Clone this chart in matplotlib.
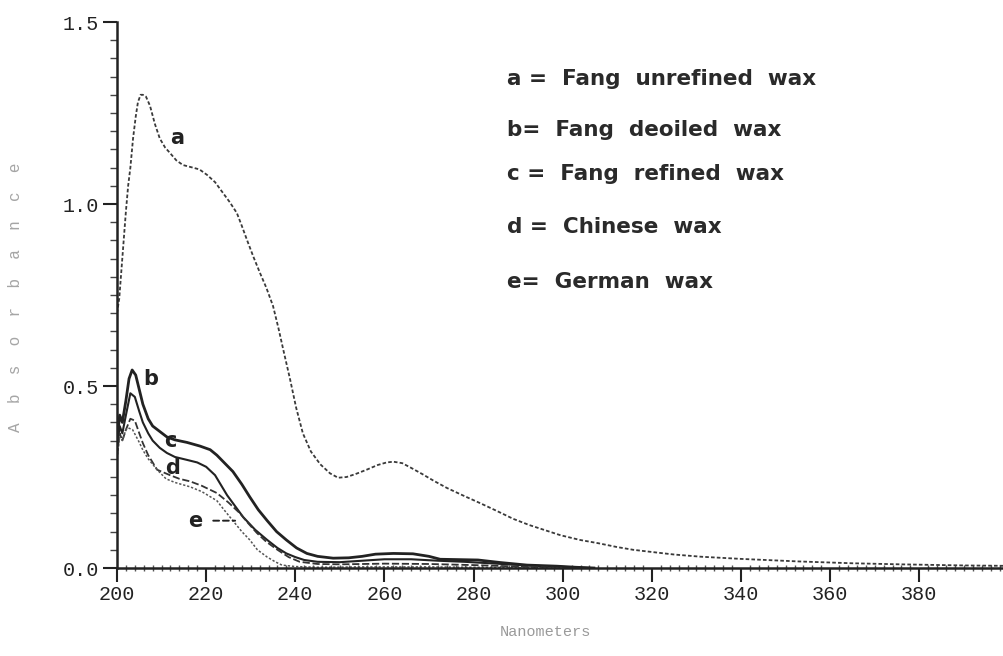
import matplotlib
matplotlib.use("Agg")
import matplotlib.pyplot as plt
from matplotlib.ticker import MultipleLocator

# ---- data (wavelength nm, absorbance) ----
a_x = [200, 200.5, 201, 201.5, 202, 202.5, 203, 203.6, 204.2, 204.7, 205.3, 205.8, 206.5, 207.4,
       208.5, 209.6, 210.8, 211.9, 213.3, 214.8, 217, 218.5, 220.2, 222, 223.8, 225.3, 226.9, 228,
       229.2, 230.6, 232.1, 233.5, 235, 236.2, 237.3, 238.8, 240.2, 241.7, 243.5, 245.6, 247.8,
       249.6, 251.5, 253.5, 256, 258.5, 260.5, 262, 264, 266, 268.5, 271, 274, 277.5, 281.5, 285,
       288.9, 292.5, 296, 299.5, 303.9, 308, 312, 315.8, 320, 325, 331, 340, 353, 365, 376, 390, 399]
a_y = [0.70, 0.74, 0.82, 0.90, 0.98, 1.05, 1.10, 1.18, 1.24, 1.28, 1.30, 1.30, 1.295, 1.27,
       1.22, 1.18, 1.155, 1.14, 1.12, 1.107, 1.10, 1.095, 1.08, 1.06, 1.03, 1.005, 0.975, 0.94,
       0.90, 0.855, 0.81, 0.77, 0.72, 0.66, 0.60, 0.52, 0.44, 0.37, 0.32, 0.285, 0.26,
       0.248, 0.25, 0.258, 0.27, 0.283, 0.29, 0.292, 0.288, 0.275, 0.258, 0.24, 0.22, 0.20, 0.178, 0.158,
       0.135, 0.118, 0.104, 0.09, 0.077, 0.068, 0.058, 0.05, 0.044, 0.037, 0.031, 0.025, 0.018, 0.013, 0.010, 0.007, 0.006]

b_x = [200, 200.6, 201.2, 202, 202.7, 203.4, 204.2, 205, 205.8, 207, 208, 209.6, 211.2, 213,
       215.7, 218.6, 220.9, 222.4, 224, 226, 228, 229.8, 231.7, 233.7, 235.8, 238, 240.3, 242.6,
       245, 248.5, 252, 255, 258, 262, 266.4, 270, 272.5, 281, 286, 292, 298.7, 303, 307]
b_y = [0.35, 0.42, 0.40, 0.46, 0.52, 0.544, 0.53, 0.49, 0.45, 0.41, 0.39, 0.375, 0.36, 0.352,
       0.345, 0.335, 0.325, 0.31, 0.29, 0.265, 0.23, 0.195, 0.16, 0.13, 0.10, 0.077, 0.055, 0.04,
       0.032, 0.027, 0.028, 0.032, 0.038, 0.04, 0.039, 0.032, 0.024, 0.022, 0.015, 0.008, 0.005, 0.002, 0.0]

c_x = [200, 200.6, 201.2, 202, 203, 204, 205, 205.8, 207, 208, 209.6, 211.2, 213, 215.7, 218,
       220, 222, 224.7, 226.5, 228.3, 231, 233.7, 236, 238, 240, 242, 245, 250, 255, 260, 266,
       272, 278, 285, 292, 300, 306]
c_y = [0.33, 0.39, 0.37, 0.42, 0.48, 0.47, 0.43, 0.40, 0.37, 0.35, 0.33, 0.316, 0.305, 0.297, 0.29,
       0.278, 0.255, 0.20, 0.17, 0.14, 0.105, 0.077, 0.055, 0.04, 0.03, 0.022, 0.017, 0.016, 0.02, 0.024, 0.024,
       0.02, 0.017, 0.012, 0.007, 0.003, 0.0]

d_x = [200, 200.6, 201.2, 202, 203, 204, 205, 205.8, 207, 209, 211.9, 214, 216.4, 219, 222.4,
       225, 227.6, 229.5, 231.4, 233.5, 236, 238.5, 241, 245, 250, 260, 270, 280, 290, 300]
d_y = [0.31, 0.37, 0.35, 0.38, 0.41, 0.405, 0.37, 0.343, 0.31, 0.27, 0.255, 0.245, 0.238, 0.226, 0.206,
       0.18, 0.15, 0.122, 0.096, 0.072, 0.05, 0.03, 0.017, 0.011, 0.010, 0.012, 0.011, 0.008, 0.004, 0.0]

e_x = [200, 200.6, 201.2, 202, 202.5, 203.5, 205, 205.8, 207, 209, 211, 213, 216.4, 219, 222.4,
       224, 226, 228, 229.8, 231.5, 233.7, 235.5, 237, 240, 245, 255, 270, 290, 300]
e_y = [0.30, 0.36, 0.35, 0.38, 0.385, 0.38, 0.345, 0.324, 0.30, 0.27, 0.245, 0.235, 0.223, 0.21, 0.185,
       0.16, 0.13, 0.10, 0.077, 0.05, 0.03, 0.017, 0.008, 0.004, 0.002, 0.003, 0.003, 0.001, 0.0]

legend_lines = ["a =  Fang  unrefined  wax", "b=  Fang  deoiled  wax", "c =  Fang  refined  wax",
                "d =  Chinese  wax", "e=  German  wax"]
x_ticks = [200, 220, 240, 260, 280, 300, 320, 340, 360, 380]
y_ticks = [0.0, 0.5, 1.0, 1.5]

# ---- figure ----
fig = plt.figure(figsize=(10.04, 6.56), dpi=100)
ax = fig.add_axes([117 / 1004, 88 / 656, 887 / 1004, 546 / 656])

ink = "#222222"
ax.plot(a_x, a_y, color="#3a3a3a", lw=1.3, linestyle=(0, (2, 1.2)))
ax.plot(b_x, b_y, color=ink, lw=2.0)
ax.plot(c_x, c_y, color=ink, lw=1.5)
ax.plot(d_x, d_y, color="#333333", lw=1.3, linestyle=(0, (4, 1.5)))
ax.plot(e_x, e_y, color="#555555", lw=1.1, linestyle=(0, (1.5, 1.2)))

ax.set_xlim(200, 399)
ax.set_ylim(0, 1.5)

for s in ["top", "right"]:
    ax.spines[s].set_visible(False)
for s in ["left", "bottom"]:
    ax.spines[s].set_linewidth(1.8)
    ax.spines[s].set_color(ink)

ax.set_xticks(x_ticks)
ax.set_yticks(y_ticks)
ax.xaxis.set_minor_locator(MultipleLocator(2))
ax.yaxis.set_minor_locator(MultipleLocator(0.05))

mono = "Liberation Mono"
ax.set_xticklabels([str(t) for t in x_ticks], fontfamily=mono, fontsize=14.5, color=ink)
ax.set_yticklabels([f"{t:.1f}" for t in y_ticks], fontfamily=mono, fontsize=14.5, color=ink)
ax.tick_params(axis="x", which="major", direction="out", length=10, width=1.5, pad=2, colors=ink)
ax.tick_params(axis="x", which="minor", direction="inout", length=5, width=1.0, colors="#555555")
ax.tick_params(axis="y", which="major", direction="out", length=10, width=1.5, pad=3, colors=ink)
ax.tick_params(axis="y", which="minor", direction="out", length=5, width=1.0, colors="#444444")

# curve labels
lab = dict(fontsize=15, fontweight="bold", color=ink, fontfamily="DejaVu Sans")
ax.text(213.5, 1.18, "a", ha="center", va="center", **lab)
ax.text(207.5, 0.52, "b", ha="center", va="center", **lab)
ax.text(212.0, 0.348, "c", ha="center", va="center", **lab)
ax.text(212.5, 0.275, "d", ha="center", va="center", **lab)
ax.annotate("e", xy=(226.5, 0.13), xytext=(217.5, 0.13), ha="center", va="center",
            arrowprops=dict(arrowstyle="-", linestyle=(0, (3, 2)), color=ink, lw=1.4,
                            shrinkA=6, shrinkB=0), **lab)

# legend text block
leg_y = [1.344, 1.204, 1.083, 0.938, 0.787]
for txt, yy in zip(legend_lines, leg_y):
    ax.text(287.5, yy, txt, ha="left", va="center", fontsize=15.5, fontweight="bold",
            color="#2a2a2a", fontfamily="DejaVu Sans")

# faint axis titles
fig.text(545 / 1004, 1 - 632 / 656, "Nanometers", ha="center", va="center",
         fontfamily=mono, fontsize=11, color="#9a9a9a")
fig.text(16 / 1004, 1 - 297 / 656, "A  b  s  o  r  b  a  n  c  e", ha="center", va="center",
         rotation=90, fontfamily=mono, fontsize=11.5, color="#a5a5a5")

fig.savefig("out.png", dpi=100)
